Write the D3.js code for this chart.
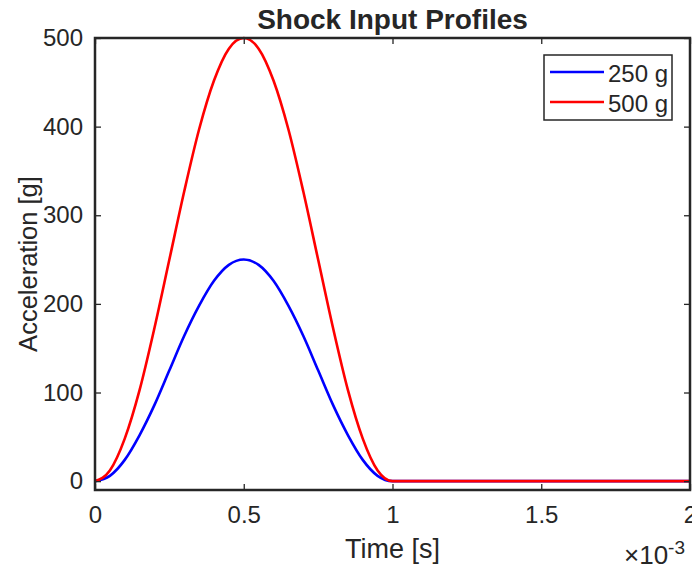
<!DOCTYPE html>
<html>
<head>
<meta charset="utf-8">
<script src="https://cdn.jsdelivr.net/npm/d3@7"></script>
<style>
  body { margin: 0; background: #fff; }
  text { font-family: "Liberation Sans", Arial, sans-serif; fill: #262626; }
</style>
</head>
<body>
<div id="chart"></div>
<script>
// time in units of 1e-3 s (axis shows x10^-3)
var timeMs = [0, 0.05, 0.1, 0.15, 0.2, 0.25, 0.3, 0.35, 0.4, 0.45, 0.5,
              0.55, 0.6, 0.65, 0.7, 0.75, 0.8, 0.85, 0.9, 0.95, 1.0, 2.0];
var accel250 = [0, 6, 24, 52, 86, 125, 164, 198, 226, 244, 250,
                244, 226, 198, 164, 125, 86, 52, 24, 6, 0, 0];
var accel500 = [0, 12, 48, 103, 173, 250, 327, 397, 452, 488, 500,
                488, 452, 397, 327, 250, 173, 103, 48, 12, 0, 0];
var seriesNames = ['250 g', '500 g'];
var seriesColors = ['#0000ff', '#ff0000'];
var xTicks = [0, 0.5, 1, 1.5, 2];
var yTicks = [0, 100, 200, 300, 400, 500];

function drawChart() {
    var W = 692, H = 567;
    var left = 95, right = 690, top = 38, bottom = 490;

    var svg = d3.select('#chart').append('svg')
        .attr('width', W)
        .attr('height', H);
    svg.append('rect').attr('width', W).attr('height', H).attr('fill', '#fff');

    var x = d3.scaleLinear().domain([0, 2]).range([left, right]);
    var y = d3.scaleLinear().domain([-10, 500]).range([bottom, top]);

    var line = d3.line()
        .x(function (d) { return x(d[0]); })
        .y(function (d) { return y(d[1]); })
        .curve(d3.curveMonotoneX);

    var allSeries = [accel250, accel500];
    allSeries.forEach(function (vals, i) {
        var pts = timeMs.map(function (t, j) { return [t, vals[j]]; });
        svg.append('path')
            .datum(pts)
            .attr('d', line)
            .attr('fill', 'none')
            .attr('stroke', seriesColors[i])
            .attr('stroke-width', 2.6);
    });

    // axes (ticks inward, box)
    var axisColor = '#262626';
    var xAxis = d3.axisBottom(x).tickValues(xTicks).tickSize(-6).tickPadding(16)
        .tickFormat(function (d) { return d; });
    var gx = svg.append('g').attr('transform', 'translate(0,' + bottom + ')').call(xAxis);
    var yAxis = d3.axisLeft(y).tickValues(yTicks).tickSize(-6).tickPadding(12);
    var gy = svg.append('g').attr('transform', 'translate(' + left + ',0)').call(yAxis);
    var xTop = d3.axisTop(x).tickValues(xTicks).tickSize(-6).tickFormat('');
    var gxt = svg.append('g').attr('transform', 'translate(0,' + top + ')').call(xTop);
    var yRight = d3.axisRight(y).tickValues(yTicks).tickSize(-6).tickFormat('');
    var gyr = svg.append('g').attr('transform', 'translate(' + right + ',0)').call(yRight);

    [gx, gy, gxt, gyr].forEach(function (g) {
        g.select('.domain').remove();
        g.selectAll('line').attr('stroke', axisColor).attr('stroke-width', 1.3);
        g.selectAll('text').style('font-size', '24px')
            .style('font-family', '"Liberation Sans", Arial, sans-serif')
            .attr('fill', axisColor);
    });
    gx.selectAll('text').attr('dy', '0.71em');

    svg.append('rect')
        .attr('x', left).attr('y', top)
        .attr('width', right - left).attr('height', bottom - top)
        .attr('fill', 'none')
        .attr('stroke', axisColor)
        .attr('stroke-width', 2.5);

    // title and labels
    svg.append('text')
        .attr('x', (left + right) / 2).attr('y', 29)
        .attr('text-anchor', 'middle')
        .style('font-size', '28px').style('font-weight', 'bold')
        .attr('fill', '#000')
        .text('Shock Input Profiles');

    svg.append('text')
        .attr('x', (left + right) / 2).attr('y', 558)
        .attr('text-anchor', 'middle')
        .style('font-size', '27px')
        .text('Time [s]');

    svg.append('text')
        .attr('transform', 'translate(37,' + ((top + bottom) / 2) + ') rotate(-90)')
        .attr('text-anchor', 'middle')
        .style('font-size', '25.5px')
        .text('Acceleration [g]');

    var expo = svg.append('text')
        .attr('x', 624).attr('y', 564)
        .style('font-size', '26px');
    expo.append('tspan').text('\u00d710');
    expo.append('tspan').attr('dy', -10).style('font-size', '19px').text('-3');

    // legend
    var lg = svg.append('g');
    lg.append('rect')
        .attr('x', 544).attr('y', 55)
        .attr('width', 128).attr('height', 65)
        .attr('fill', '#fff')
        .attr('stroke', axisColor)
        .attr('stroke-width', 1.5);
    seriesNames.forEach(function (name, i) {
        var yy = 72 + i * 30;
        lg.append('line')
            .attr('x1', 550).attr('x2', 604)
            .attr('y1', yy).attr('y2', yy)
            .attr('stroke', seriesColors[i])
            .attr('stroke-width', 2.6);
        lg.append('text')
            .attr('x', 608).attr('y', yy)
            .attr('dy', '0.4em')
            .style('font-size', '24px')
            .attr('fill', '#000')
            .text(name);
    });
}
drawChart();
</script>
</body>
</html>
